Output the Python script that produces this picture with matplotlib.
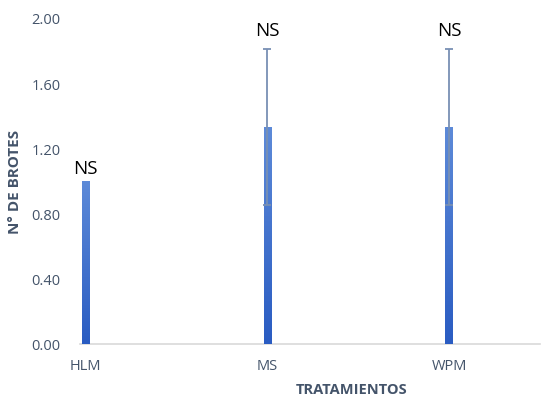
import numpy as np
import matplotlib
matplotlib.use('Agg')
from matplotlib import pyplot as plt
from matplotlib.colors import LinearSegmentedColormap

plt.rcParams['font.family'] = ['Open Sans', 'DejaVu Sans']

tratamientos = ['HLM', 'MS', 'WPM']
brotes = [1.00, 1.33, 1.33]
error = [0.0, 0.48, 0.48]
etiquetas = ['NS', 'NS', 'NS']

gris = '#44546a'

fig = plt.figure(figsize=(5.44, 4.02), dpi=100)
ax = fig.add_axes([80/544, 1-345/402, 460/544, 326/402])

x = np.arange(len(tratamientos))
ancho = 0.04
barras = ax.bar(x, brotes, width=ancho, color='#3a6ccc', zorder=2)

# degradado vertical dentro de cada barra
degradado = LinearSegmentedColormap.from_list('deg', ['#2a5cc2', '#5d8ad8'])
for b in barras:
    x0, y0 = b.get_x(), b.get_y()
    im = ax.imshow(np.linspace(0, 1, 100).reshape(-1, 1), cmap=degradado,
                   origin='lower', aspect='auto',
                   extent=[x0, x0 + b.get_width(), y0, y0 + b.get_height()], zorder=3)
    im.set_clip_path(b)

for i in range(len(x)):
    desfase = 3
    if error[i] > 0:
        ax.errorbar(x[i], brotes[i], yerr=error[i], fmt='none', ecolor='#7890b4',
                    elinewidth=1.3, capsize=2.6, capthick=1.3, zorder=4)
        desfase = 7
    tope = brotes[i] + error[i]
    ax.annotate(etiquetas[i], (x[i], tope), xytext=(0, desfase), textcoords='offset points',
                ha='center', va='bottom', fontsize=13.5, color='black')

ax.set_xlim(-0.03, 2.5)
ax.set_ylim(0, 2.0)
ax.set_yticks(np.arange(0, 2.01, 0.4))
ax.set_yticklabels(['%.2f' % v for v in np.arange(0, 2.01, 0.4)])
ax.set_xticks(x)
ax.set_xticklabels(tratamientos)
ax.tick_params(axis='both', length=0, colors=gris, labelsize=10.5)
ax.tick_params(axis='x', pad=10)
ax.tick_params(axis='y', pad=14)

for lado in ['top', 'right', 'left']:
    ax.spines[lado].set_visible(False)
ax.spines['bottom'].set_color('#d9d9d9')
ax.spines['bottom'].set_linewidth(1.2)

ax.set_ylabel('N° DE BROTES', color=gris, fontsize=11, fontweight='bold')
ax.yaxis.set_label_coords(-0.125, 0.5)
ax.set_xlabel('TRATAMIENTOS', color=gris, fontsize=10.5, fontweight='bold')
ax.xaxis.set_label_coords(0.59, -0.118)

fig.savefig('out.png', dpi=100)
